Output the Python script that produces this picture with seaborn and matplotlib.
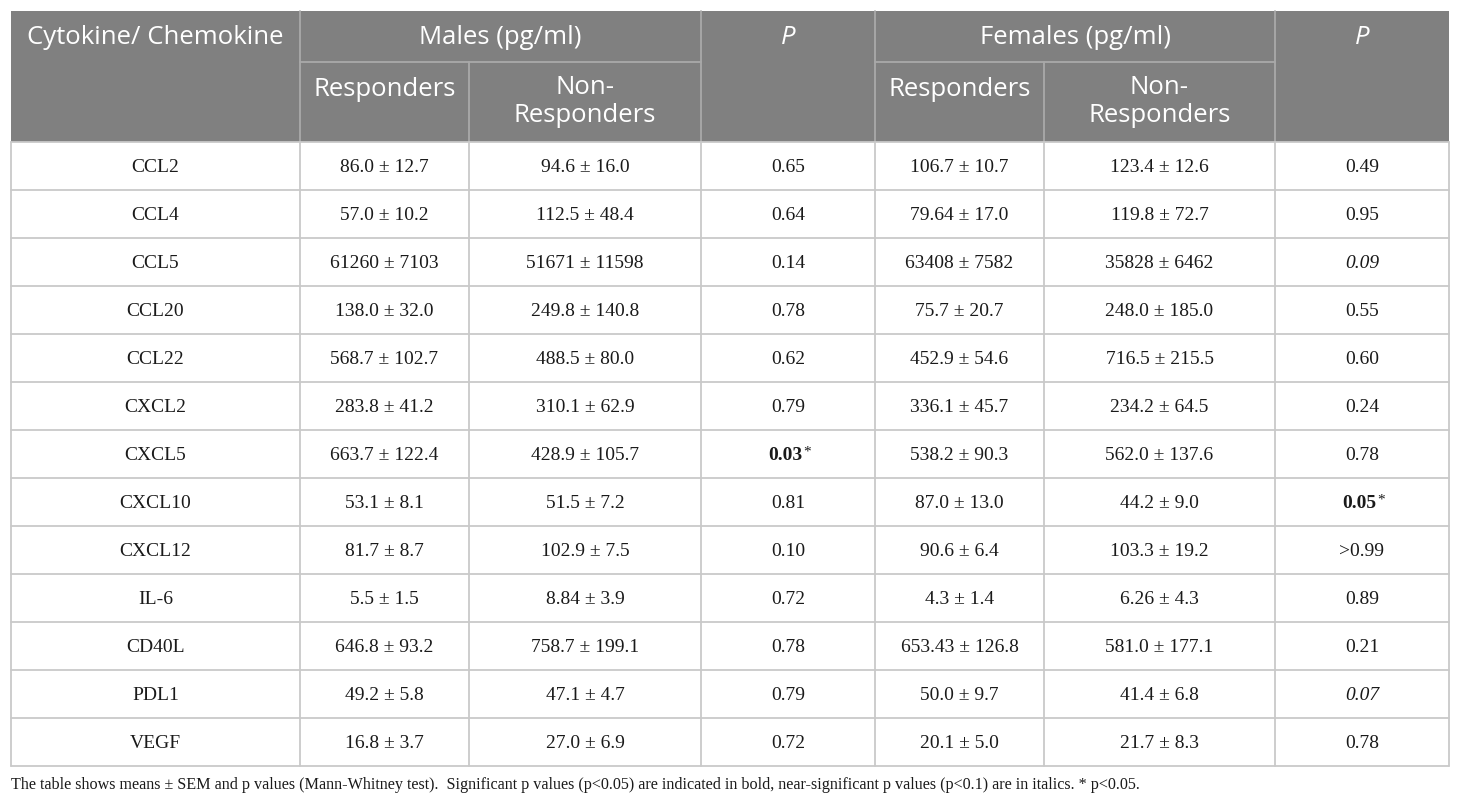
import matplotlib
matplotlib.use("Agg")
import matplotlib.pyplot as plt
import seaborn as sns
from matplotlib.patches import Rectangle

# Tabellendaten
markers = ["CCL2", "CCL4", "CCL5", "CCL20", "CCL22", "CXCL2", "CXCL5", "CXCL10",
           "CXCL12", "IL-6", "CD40L", "PDL1", "VEGF"]
male_resp = ["86.0 ± 12.7", "57.0 ± 10.2", "61260 ± 7103", "138.0 ± 32.0", "568.7 ± 102.7",
             "283.8 ± 41.2", "663.7 ± 122.4", "53.1 ± 8.1", "81.7 ± 8.7", "5.5 ± 1.5",
             "646.8 ± 93.2", "49.2 ± 5.8", "16.8 ± 3.7"]
male_nonresp = ["94.6 ± 16.0", "112.5 ± 48.4", "51671 ± 11598", "249.8 ± 140.8", "488.5 ± 80.0",
                "310.1 ± 62.9", "428.9 ± 105.7", "51.5 ± 7.2", "102.9 ± 7.5", "8.84 ± 3.9",
                "758.7 ± 199.1", "47.1 ± 4.7", "27.0 ± 6.9"]
male_p = ["0.65", "0.64", "0.14", "0.78", "0.62", "0.79", "0.03*", "0.81", "0.10", "0.72",
          "0.78", "0.79", "0.72"]
female_resp = ["106.7 ± 10.7", "79.64 ± 17.0", "63408 ± 7582", "75.7 ± 20.7", "452.9 ± 54.6",
               "336.1 ± 45.7", "538.2 ± 90.3", "87.0 ± 13.0", "90.6 ± 6.4", "4.3 ± 1.4",
               "653.43 ± 126.8", "50.0 ± 9.7", "20.1 ± 5.0"]
female_nonresp = ["123.4 ± 12.6", "119.8 ± 72.7", "35828 ± 6462", "248.0 ± 185.0", "716.5 ± 215.5",
                  "234.2 ± 64.5", "562.0 ± 137.6", "44.2 ± 9.0", "103.3 ± 19.2", "6.26 ± 4.3",
                  "581.0 ± 177.1", "41.4 ± 6.8", "21.7 ± 8.3"]
female_p = ["0.49", "0.95", "0.09", "0.55", "0.60", "0.24", "0.78", "0.05*", ">0.99", "0.89",
            "0.21", "0.07", "0.78"]

footnote = ("The table shows means ± SEM and p values (Mann-Whitney test).  Significant p values "
            "(p<0.05) are indicated in bold, near-significant p values (p<0.1) are in italics. * p<0.05.")

sns.set_theme(style="white")
plt.rcParams['font.family'] = ['Liberation Serif', 'DejaVu Serif']

# Layout in Pixeln
col_x = [11, 300, 469, 701, 875, 1044, 1275, 1449]
top, mid, head_bot = 11, 62, 142
row_h = 48
n = len(markers)
bottom = head_bot + n * row_h

fig = plt.figure(figsize=(14.6, 8.05), dpi=100)
ax = fig.add_axes([0, 0, 1, 1])
ax.set_xlim(0, 1460)
ax.set_ylim(805, 0)
ax.axis('off')

# Kopfzeile
head_col = '#808080'
head_line = '#a9a9a9'
ax.add_patch(Rectangle((col_x[0], top), col_x[-1] - col_x[0], head_bot - top,
                       facecolor=head_col, edgecolor='none'))
for x0, x1 in [(col_x[1], col_x[3]), (col_x[4], col_x[6])]:
    ax.plot([x0, x1], [mid, mid], color=head_line, lw=1.3)
for x in [col_x[1], col_x[3], col_x[4], col_x[6]]:
    ax.plot([x, x], [top, head_bot], color=head_line, lw=1.3)
for x in [col_x[2], col_x[5]]:
    ax.plot([x, x], [mid, head_bot], color=head_line, lw=1.3)

sans = ['Open Sans', 'DejaVu Sans']
hkw = dict(color='white', fontsize=18.5, family=sans, ha='center', va='center')
ax.text((col_x[0] + col_x[1]) / 2, 37, "Cytokine/ Chemokine", **hkw)
ax.text((col_x[1] + col_x[3]) / 2, 37, "Males (pg/ml)", **hkw)
ax.text((col_x[4] + col_x[6]) / 2, 37, "Females (pg/ml)", **hkw)
ax.text((col_x[3] + col_x[4]) / 2, 37, "P", style='italic', **hkw)
ax.text((col_x[6] + col_x[7]) / 2, 37, "P", style='italic', **hkw)
for c in [1, 4]:
    ax.text((col_x[c] + col_x[c + 1]) / 2, 89, "Responders", **hkw)
    ax.text((col_x[c + 1] + col_x[c + 2]) / 2, 87, "Non-", **hkw)
    ax.text((col_x[c + 1] + col_x[c + 2]) / 2, 116, "Responders", **hkw)

# Gitterlinien im Körper
grid_col = '#c9c9c9'
for i in range(n + 1):
    y = head_bot + i * row_h
    ax.plot([col_x[0], col_x[-1]], [y, y], color=grid_col, lw=1.3)
for x in col_x:
    ax.plot([x, x], [head_bot, bottom], color=grid_col, lw=1.3)


def p_style(p):
    if p.endswith('*'):
        return 'bold'
    try:
        if float(p.lstrip('>')) < 0.1:
            return 'italic'
    except ValueError:
        pass
    return 'normal'


fs = 14
txt_col = '#1a1a1a'
columns = [markers, male_resp, male_nonresp, male_p, female_resp, female_nonresp, female_p]
for c, vals in enumerate(columns):
    cx = (col_x[c] + col_x[c + 1]) / 2
    for i, v in enumerate(vals):
        cy = head_bot + i * row_h + row_h / 2 + 1
        st = p_style(v) if c in (3, 6) else 'normal'
        if st == 'bold':
            t = ax.text(cx - 3, cy, v.rstrip('*'), fontsize=fs, fontweight='bold',
                        ha='center', va='center', color=txt_col)
            ax.annotate('*', xy=(1, 1), xycoords=t, xytext=(0.5, 1), textcoords='offset points',
                        fontsize=fs - 3, ha='left', va='top', color=txt_col)
        elif st == 'italic':
            ax.text(cx, cy, v, fontsize=fs, style='italic', ha='center', va='center', color=txt_col)
        else:
            ax.text(cx, cy, v, fontsize=fs, ha='center', va='center', color=txt_col)

ax.text(col_x[0], 785, footnote, fontsize=11.6, ha='left', va='center', color=txt_col)

plt.savefig('out.png', dpi=100)
plt.close()
